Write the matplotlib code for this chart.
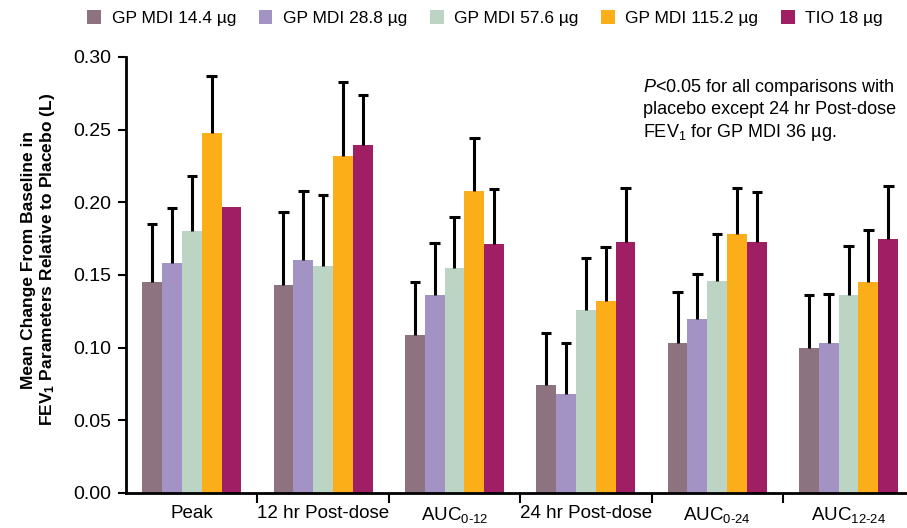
import numpy as np
import matplotlib
matplotlib.use("Agg")
import matplotlib.pyplot as plt

plt.rcParams['font.family'] = ['Liberation Sans', 'DejaVu Sans']
plt.rcParams['mathtext.fontset'] = 'custom'
plt.rcParams['mathtext.rm'] = 'Liberation Sans'
plt.rcParams['mathtext.it'] = 'Liberation Sans:italic'
plt.rcParams['mathtext.bf'] = 'Liberation Sans:bold'

categories = ['Peak', '12 hr Post-dose', r'AUC$_{\text{0-12}}$',
              '24 hr Post-dose', r'AUC$_{\text{0-24}}$', r'AUC$_{\text{12-24}}$']
series = ['GP MDI 14.4 µg', 'GP MDI 28.8 µg', 'GP MDI 57.6 µg', 'GP MDI 115.2 µg', 'TIO 18 µg']
colors = ['#8C737F', '#A392C4', '#BCD4C3', '#FBAE17', '#A01E63']

# mean change per series, one value per category
gp14 = [0.145, 0.143, 0.109, 0.074, 0.103, 0.100]
gp28 = [0.158, 0.160, 0.136, 0.068, 0.120, 0.103]
gp57 = [0.180, 0.156, 0.155, 0.126, 0.146, 0.136]
gp115 = [0.248, 0.232, 0.208, 0.132, 0.178, 0.145]
tio = [0.197, 0.2395, 0.171, 0.173, 0.173, 0.175]

# upper end of error bars (Peak TIO has none)
gp14_hi = [0.185, 0.193, 0.145, 0.110, 0.138, 0.136]
gp28_hi = [0.196, 0.208, 0.172, 0.103, 0.151, 0.137]
gp57_hi = [0.218, 0.205, 0.190, 0.162, 0.178, 0.170]
gp115_hi = [0.287, 0.283, 0.244, 0.169, 0.210, 0.181]
tio_hi = [np.nan, 0.274, 0.209, 0.210, 0.207, 0.211]

values = [gp14, gp28, gp57, gp115, tio]
highs = [gp14_hi, gp28_hi, gp57_hi, gp115_hi, tio_hi]

fig = plt.figure(figsize=(9.07, 5.28), dpi=100)
ax = fig.add_axes([0.139, 0.0663, 0.869, 0.8258])

x = np.arange(len(categories))
w = 0.151
cap = 0.04
for i, (vals, hi) in enumerate(zip(values, highs)):
    pos = x + (i - 2) * w
    vals = np.array(vals)
    hi = np.array(hi)
    ax.bar(pos, vals, w, color=colors[i], label=series[i], zorder=2)
    ok = ~np.isnan(hi)
    # one-sided error bars: stem from the bar top plus a cap
    ax.vlines(pos[ok], vals[ok], hi[ok], color='black', lw=2.2, zorder=3)
    ax.hlines(hi[ok], pos[ok] - cap, pos[ok] + cap, color='black', lw=2.2, zorder=3)

ax.set_xlim(-0.5, 5.5)
ax.set_ylim(0, 0.30)
yt = np.arange(0, 0.301, 0.05)
ax.set_yticks(yt)
ax.set_yticklabels([f'{v:.2f}' for v in yt], fontsize=14)
ax.set_xticks(x)
ax.set_xticklabels(categories, fontsize=13.5)
ax.set_xticks(np.arange(0.5, 5.5, 1), minor=True)
ax.tick_params(axis='x', which='major', length=0, pad=9)
ax.tick_params(axis='x', which='minor', length=7, width=1.5, direction='out')
ax.tick_params(axis='y', length=6, width=1.5, direction='out', pad=5)

for s in ['top', 'right']:
    ax.spines[s].set_visible(False)
for s in ['left', 'bottom']:
    ax.spines[s].set_linewidth(2)

ax.set_ylabel('Mean Change From Baseline in\nFEV$_\\mathbf{1}$ Parameters Relative to Placebo (L)',
              fontsize=12.5, fontweight='bold', linespacing=1.15)
ax.yaxis.set_label_coords(-0.088, 0.535)

fig.text(643 / 907, 1 - 77 / 528,
         '$\\it{P}$<0.05 for all comparisons with\nplacebo except 24 hr Post-dose\nFEV$_1$ for GP MDI 36 µg.',
         fontsize=13, va='top', ha='left', linespacing=1.25)

fig.legend(loc='upper center', bbox_to_anchor=(485 / 907, 1.01), ncol=5, frameon=False,
           fontsize=12.5, handlelength=0.8, handleheight=0.8, columnspacing=1.3, handletextpad=0.6)

fig.savefig('out.png', dpi=100)
